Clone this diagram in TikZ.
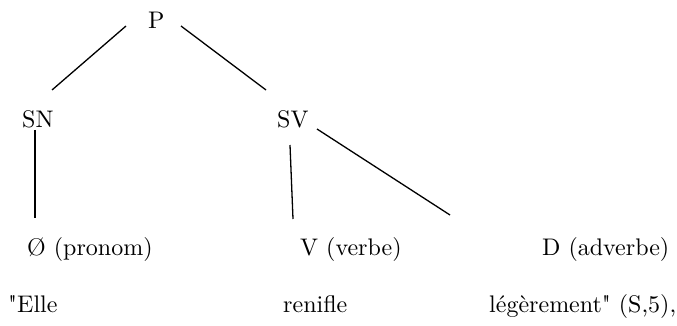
\documentclass[tikz,border=0pt]{standalone}
\usepackage{tikz}
\font\catfont="[lmroman10-regular.otf]" at 24pt
\tikzset{
  cat/.style={font=\catfont,inner sep=0pt,anchor=base west},
  branch/.style={line width=1.3pt,black},
}

\begin{document}
\begin{tikzpicture}[x=1pt,y=-1pt]
  \useasboundingbox (0,0) rectangle (677,326);
  % syntactic tree of the sentence, categories then words
  \node[cat] (P)  at (148,29)  {P};
  \node[cat] (SN) at (22,128)  {SN};
  \node[cat] (SV) at (277,128) {SV};

  \node[cat] (pron) at (27,255)  {Ø (pronom)};
  \node[cat] (verb) at (300,255) {V (verbe)};
  \node[cat] (adv)  at (542,255) {D (adverbe)};

  \node[cat] (elle) at (8,312)   {"Elle};
  \node[cat] (ren)  at (283,312) {renifle};
  \node[cat] (leg)  at (489,312) {légèrement" (S,5),};

  \draw[branch] ([shift={(-22,-3)}]P.base west) -- ([shift={(30,-38)}]SN.base west);
  \draw[branch] ([shift={(33,-3)}]P.base west)  -- ([shift={(-11,-38)}]SV.base west);
  \draw[branch] ([shift={(13,2)}]SN.base west)  -- ([shift={(8,-37)}]pron.base west);
  \draw[branch] ([shift={(13,17)}]SV.base west) -- ([shift={(-7,-36)}]verb.base west);
  \draw[branch] ([shift={(40,1)}]SV.base west)  -- ([shift={(-92,-40)}]adv.base west);
\end{tikzpicture}
\end{document}
